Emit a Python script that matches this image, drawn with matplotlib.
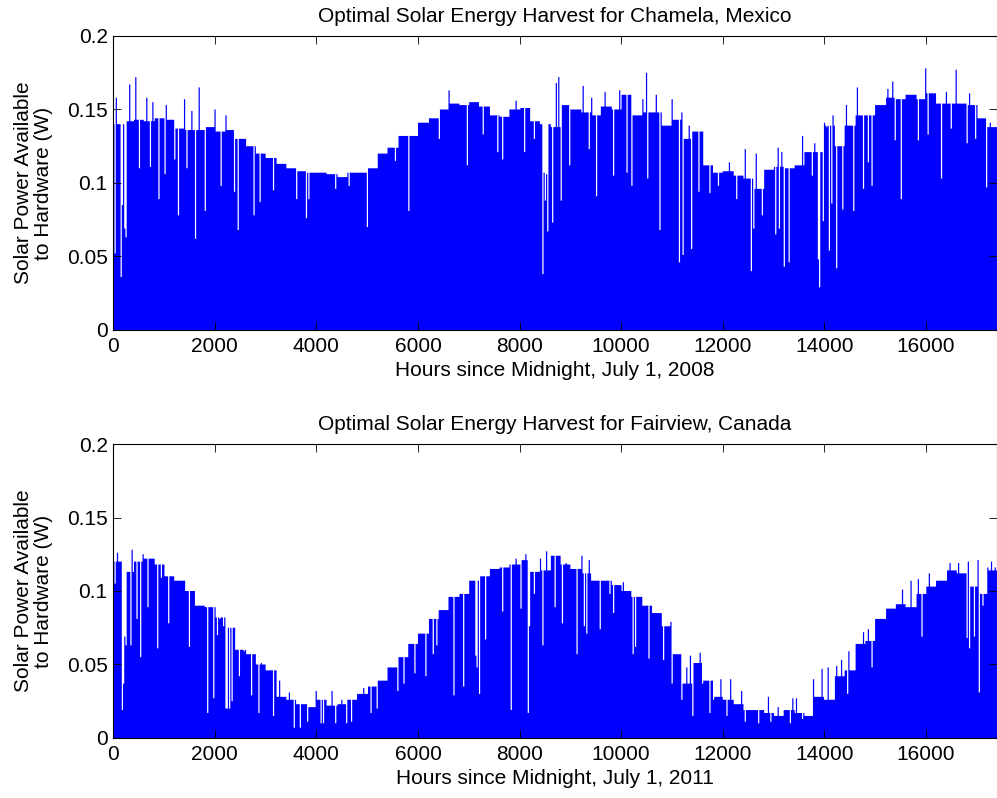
import numpy as np
import matplotlib
matplotlib.use("Agg")
import matplotlib.pyplot as plt

plt.rcParams['font.family'] = ['Liberation Sans', 'DejaVu Sans']
plt.rcParams['font.size'] = 15

# ----------------------------
# Data: daily peak harvest (W)
# ----------------------------
HOURS_END = 17400
BLOCK = 200  # hours covered by each typical-peak value

# typical daily peak for each 200 h block, Chamela 2008-2010
chamela_base = [
    0.140, 0.142, 0.143, 0.142, 0.144, 0.143, 0.137, 0.136, 0.136, 0.138,
    0.135, 0.136, 0.130, 0.125, 0.120, 0.117, 0.113, 0.110, 0.108, 0.107,
    0.107, 0.106, 0.104, 0.107, 0.107, 0.110, 0.120, 0.124, 0.132, 0.132,
    0.141, 0.144, 0.150, 0.154, 0.153, 0.155, 0.152, 0.146, 0.145, 0.150,
    0.151, 0.142, 0.140, 0.138, 0.153, 0.150, 0.148, 0.146, 0.152, 0.150,
    0.160, 0.146, 0.148, 0.148, 0.139, 0.143, 0.130, 0.135, 0.112, 0.107,
    0.108, 0.105, 0.103, 0.096, 0.109, 0.111, 0.110, 0.112, 0.121, 0.121,
    0.139, 0.125, 0.139, 0.146, 0.146, 0.153, 0.158, 0.157, 0.160, 0.157,
    0.161, 0.154, 0.154, 0.154, 0.153, 0.144, 0.138,
]

# individual days that stand out (cloudy dips / clear spikes)
chamela_day_hours = [
    33, 52, 144, 177, 217, 249, 328, 446, 512, 656, 741, 774, 906, 1017,
    1050, 1207, 1293, 1411, 1457, 1549, 1627, 1693, 1811, 2008, 2119, 2231,
    2395, 2467, 2776, 2887, 3150, 3622, 3806, 3852, 4383, 4646, 5007, 5564,
    5814, 6417, 6621, 6969, 7283, 7579, 7671, 7940, 8104, 8287, 8451, 8478,
    8497, 8530, 8563, 8661, 8714, 8780, 8812, 8990, 9252, 9383, 9416, 9514,
    9685, 9843, 9974, 10105, 10210, 10420, 10499, 10532, 10696, 10774,
    11004, 11155, 11201, 11220, 11339, 11391, 11535, 11759, 11909, 12126,
    12270, 12447, 12552, 12618, 12664, 12775, 13045, 13091, 13110, 13156,
    13209, 13307, 13583, 13760, 13812, 13878, 13917, 13976, 13996, 14062,
    14088, 14147, 14173, 14232, 14370, 14436, 14580, 14652, 14777, 14856,
    14934, 15256, 15341, 15387, 15518, 15846, 15991, 16043, 16319, 16404,
    16503, 16601, 16811, 16850, 16982, 17192, 17257,
]
chamela_day_peaks = [
    0.052, 0.158, 0.036, 0.085, 0.069, 0.063, 0.167, 0.172, 0.110, 0.158,
    0.111, 0.155, 0.089, 0.106, 0.153, 0.116, 0.078, 0.157, 0.110, 0.149,
    0.062, 0.165, 0.081, 0.150, 0.098, 0.146, 0.094, 0.068, 0.078, 0.087,
    0.095, 0.089, 0.076, 0.089, 0.096, 0.098, 0.070, 0.115, 0.081, 0.130,
    0.163, 0.112, 0.133, 0.121, 0.116, 0.156, 0.121, 0.130, 0.038, 0.107,
    0.088, 0.106, 0.067, 0.073, 0.168, 0.172, 0.088, 0.112, 0.166, 0.123,
    0.158, 0.091, 0.162, 0.105, 0.163, 0.107, 0.098, 0.157, 0.175, 0.103,
    0.160, 0.068, 0.157, 0.046, 0.148, 0.051, 0.139, 0.055, 0.094, 0.093,
    0.098, 0.114, 0.089, 0.123, 0.040, 0.069, 0.120, 0.078, 0.065, 0.124,
    0.069, 0.121, 0.043, 0.046, 0.132, 0.105, 0.127, 0.048, 0.029, 0.074,
    0.141, 0.138, 0.054, 0.086, 0.146, 0.042, 0.082, 0.153, 0.081, 0.165,
    0.096, 0.114, 0.098, 0.164, 0.169, 0.129, 0.089, 0.129, 0.178, 0.133,
    0.103, 0.162, 0.137, 0.177, 0.127, 0.161, 0.130, 0.097, 0.141,
]

# typical daily peak for each 200 h block, Fairview 2011-2013
fairview_base = [
    0.120, 0.113, 0.120, 0.122, 0.118, 0.110, 0.107, 0.100, 0.090, 0.089,
    0.082, 0.075, 0.060, 0.057, 0.050, 0.046, 0.028, 0.026, 0.023, 0.021,
    0.026, 0.022, 0.023, 0.026, 0.030, 0.035, 0.039, 0.048, 0.055, 0.064,
    0.071, 0.081, 0.087, 0.096, 0.098, 0.107, 0.110, 0.115, 0.116, 0.118,
    0.121, 0.113, 0.114, 0.124, 0.118, 0.115, 0.112, 0.107, 0.107, 0.104,
    0.100, 0.096, 0.090, 0.085, 0.076, 0.057, 0.037, 0.051, 0.039, 0.028,
    0.026, 0.023, 0.019, 0.019, 0.017, 0.015, 0.019, 0.017, 0.015, 0.028,
    0.026, 0.042, 0.046, 0.064, 0.066, 0.081, 0.088, 0.091, 0.089, 0.098,
    0.103, 0.107, 0.114, 0.112, 0.103, 0.098, 0.114,
]

fairview_day_hours = [
    33, 79, 177, 197, 230, 249, 348, 381, 472, 545, 591, 689, 807, 886, 951,
    1096, 1496, 1640, 1870, 1988, 2047, 2100, 2178, 2231, 2255, 2280, 2297,
    2329, 2493, 2579, 2723, 2874, 2920, 3163, 3281, 3458, 3563, 3675, 3694,
    3839, 4003, 4101, 4134, 4199, 4318, 4383, 4501, 4593, 4698, 4921, 5066,
    5190, 5610, 5728, 5951, 6155, 6299, 6378, 6706, 6890, 6909, 7133, 7152,
    7218, 7283, 7336, 7664, 7841, 7940, 8038, 8123, 8176, 8202, 8300, 8412,
    8451, 8543, 8688, 8832, 8924, 9134, 9226, 9265, 9331, 9383, 9580, 9790,
    9856, 10039, 10236, 10289, 10551, 10840, 10971, 11004, 11207, 11286,
    11352, 11417, 11549, 11601, 11745, 11811, 11962, 12073, 12152, 12369,
    12454, 12710, 12894, 12959, 13091, 13320, 13373, 13451, 13583, 13799,
    13950, 14009, 14075, 14239, 14337, 14469, 14488, 14783, 14862, 14928,
    15538, 15715, 15846, 15925, 16076, 16470, 16648, 16811, 16831, 16864,
    16955, 17027, 17047, 17133, 17231, 17297, 17362,
]
fairview_day_peaks = [
    0.105, 0.126, 0.019, 0.037, 0.069, 0.063, 0.063, 0.128, 0.081, 0.055,
    0.125, 0.089, 0.122, 0.061, 0.109, 0.078, 0.062, 0.090, 0.017, 0.027,
    0.070, 0.081, 0.076, 0.020, 0.020, 0.022, 0.020, 0.025, 0.042, 0.059,
    0.029, 0.017, 0.051, 0.015, 0.039, 0.031, 0.007, 0.010, 0.007, 0.011,
    0.032, 0.010, 0.010, 0.026, 0.032, 0.010, 0.026, 0.010, 0.011, 0.034,
    0.017, 0.020, 0.032, 0.037, 0.044, 0.042, 0.057, 0.063, 0.029, 0.067,
    0.035, 0.056, 0.048, 0.030, 0.110, 0.067, 0.086, 0.019, 0.122, 0.088,
    0.125, 0.017, 0.076, 0.098, 0.122, 0.063, 0.127, 0.089, 0.078, 0.119,
    0.057, 0.124, 0.076, 0.071, 0.121, 0.074, 0.098, 0.085, 0.106, 0.057,
    0.062, 0.054, 0.053, 0.079, 0.037, 0.026, 0.048, 0.056, 0.015, 0.058,
    0.037, 0.017, 0.026, 0.040, 0.015, 0.040, 0.032, 0.011, 0.010, 0.028,
    0.011, 0.021, 0.010, 0.027, 0.027, 0.013, 0.040, 0.047, 0.026, 0.048,
    0.049, 0.053, 0.030, 0.059, 0.072, 0.074, 0.048, 0.101, 0.107, 0.108,
    0.069, 0.112, 0.119, 0.119, 0.068, 0.120, 0.061, 0.069, 0.121, 0.031,
    0.090, 0.116, 0.120, 0.116,
]

x_ticks = [0, 2000, 4000, 6000, 8000, 10000, 12000, 14000, 16000]
y_ticks = [0, 0.05, 0.1, 0.15, 0.2]
y_tick_labels = ["0", "0.05", "0.1", "0.15", "0.2"]


def daily_peaks(base, day_hours, day_peaks):
    edges = np.arange(0, HOURS_END + 1, 24)
    starts = edges[:-1]
    peaks = np.asarray(base, dtype=float)[starts // BLOCK]
    for h, p in zip(day_hours, day_peaks):
        peaks[int(h // 24)] = p
    return edges, peaks


panels = [
    ("Optimal Solar Energy Harvest for Chamela, Mexico",
     "Hours since Midnight, July 1, 2008",
     chamela_base, chamela_day_hours, chamela_day_peaks),
    ("Optimal Solar Energy Harvest for Fairview, Canada",
     "Hours since Midnight, July 1, 2011",
     fairview_base, fairview_day_hours, fairview_day_peaks),
]

# ----------------------------
# Plot
# ----------------------------
fig = plt.figure(figsize=(9.97, 7.98), dpi=100)
axes_boxes = [[0.1136, 0.5865, 0.8864, 0.3684],
              [0.1136, 0.0752, 0.8864, 0.3684]]

for box, (title, xlabel, base, hrs, pks) in zip(axes_boxes, panels):
    ax = fig.add_axes(box)
    edges, peaks = daily_peaks(base, hrs, pks)
    ax.stairs(peaks, edges, fill=True, color="#0000ff", linewidth=0)

    ax.set_xlim(0, HOURS_END)
    ax.set_ylim(0, 0.2)
    ax.set_xticks(x_ticks)
    ax.set_yticks(y_ticks)
    ax.set_yticklabels(y_tick_labels)
    ax.tick_params(direction="in", top=True, right=True, length=5.8,
                   width=0.6, labelsize=15)
    ax.tick_params(axis="x", pad=5)
    ax.tick_params(axis="y", pad=4)
    for s in ax.spines.values():
        s.set_linewidth(0.8)

    ax.set_title(title, fontsize=15, pad=10)
    ax.set_xlabel(xlabel, fontsize=15, labelpad=4)
    ax.set_ylabel("Solar Power Available\nto Hardware (W)", fontsize=15,
                  labelpad=10, linespacing=1.05)

fig.savefig("out.png", dpi=100)
